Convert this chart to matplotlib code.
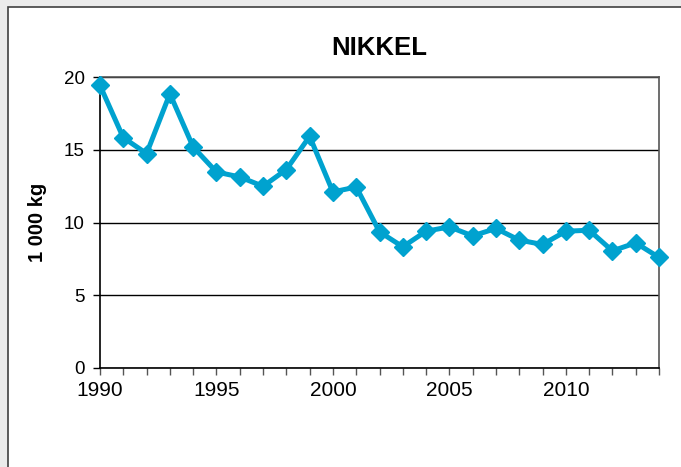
import matplotlib
matplotlib.use('agg')
import matplotlib.pyplot as plt
from matplotlib.patches import Rectangle

# data
years = list(range(1990, 2015))
nikkel = [19.42, 15.83, 14.74, 18.85, 15.19, 13.47, 13.13, 12.49, 13.64, 15.92,
          12.10, 12.44, 9.36, 8.33, 9.40, 9.70, 9.08, 9.59, 8.79, 8.49,
          9.40, 9.47, 8.05, 8.60, 7.60]
yticks = [0, 5, 10, 15, 20]
xticks = [1990, 1995, 2000, 2005, 2010]

plt.rcParams['font.family'] = ['Liberation Sans', 'DejaVu Sans']

W, H = 681, 467
f = plt.figure(figsize=(W / 100, H / 100), dpi=100)
f.patch.set_facecolor('#ebebeb')

# white chart frame (runs off the right and bottom edges)
f.patches.append(Rectangle((8 / W, -0.1), 1, 1.1 - 7 / H, transform=f.transFigure,
                           facecolor='white', edgecolor='#404040', lw=1.2, zorder=-5))

x0, x1 = 100 / W, 659 / W
y0, y1 = 1 - 368 / H, 1 - 77 / H
ax = f.add_axes([x0, y0, x1 - x0, y1 - y0])
ax.set_zorder(2)
ax.set_facecolor('white')

ax.plot(years, nikkel, color='#00a2cf', lw=3.6, marker='D', ms=9.5,
        mec='#00a2cf', mfc='#00a2cf', clip_on=False, zorder=5)

ax.set_xlim(1990, 2014)
ax.set_ylim(0, 20)
ax.set_yticks(yticks)
ax.set_xticks(xticks)
ax.set_xticks(years, minor=True)
ax.yaxis.grid(True, color='black', lw=1)
ax.set_axisbelow(True)

for s in ['top', 'right']:
    ax.spines[s].set_color('#555555')
    ax.spines[s].set_linewidth(1.2)
for s in ['left', 'bottom']:
    ax.spines[s].set_color('black')
    ax.spines[s].set_linewidth(1.2)

ax.tick_params(axis='y', direction='out', length=5, width=1, labelsize=13.5, pad=6)
ax.tick_params(axis='x', which='both', direction='out', length=5, width=1,
               labelsize=15, pad=4, color='#555555')

ax.set_ylabel('1 000 kg', fontsize=14.5, weight='bold', labelpad=12)
ax.set_title('NIKKEL', fontsize=18.5, weight='bold', pad=16)

plt.savefig('out.png', format='png', dpi=100, facecolor=f.get_facecolor())
